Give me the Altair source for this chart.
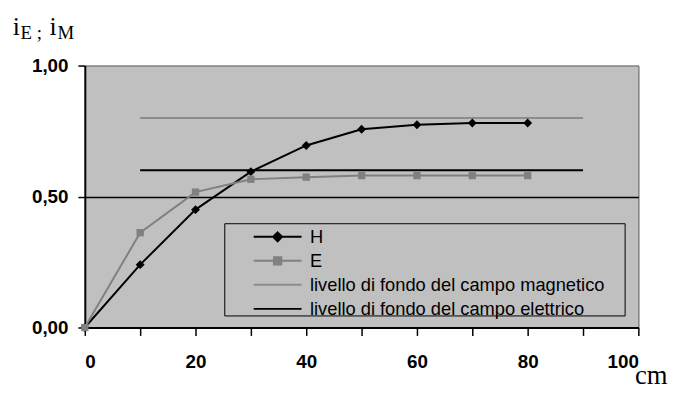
import altair as alt
import pandas as pd

# ---- data ----
distance_cm = [0, 10, 20, 30, 40, 50, 60, 70, 80]
h_values = [0.0, 0.24, 0.45, 0.595, 0.695, 0.757, 0.774, 0.781, 0.781]
e_values = [0.0, 0.362, 0.517, 0.566, 0.574, 0.58, 0.58, 0.58, 0.58]

level_names = ["livello di fondo del campo magnetico", "livello di fondo del campo elettrico"]
level_values = [0.80, 0.60]
level_start = [10, 10]
level_end = [90, 90]

series_names = ["H", "E"] + level_names
series_colors = ["#000000", "#808080", "#8c8c8c", "#000000"]

x_ticks = list(range(0, 101, 10))
y_ticks = [0, 0.5, 1]

# ---- tables ----
df = pd.DataFrame({"cm": distance_cm, "H": h_values, "E": e_values})
lv = pd.DataFrame({"serie": level_names, "valore": level_values, "da": level_start, "a": level_end})
legend_df = pd.DataFrame({"serie": series_names})
one = pd.DataFrame({"k": [0]})

SANS = "Liberation Sans"
SERIF = "Liberation Serif"

x_scale = alt.Scale(domain=[0, 100], nice=False)
y_scale = alt.Scale(domain=[0, 1], nice=False)

x_axis = alt.Axis(
    values=x_ticks,
    labelExpr="datum.value % 20 == 0 ? datum.label : ''",
    labelFont=SANS, labelFontWeight="bold", labelFontSize=19, labelColor="black",
    labelPadding=17, tickSize=8, tickColor="black", tickWidth=1.5,
    domainColor="black", domainWidth=2,
    grid=True, gridColor="#808080", gridWidth=1.5,
    gridOpacity={"condition": {"test": "datum.value == 100", "value": 1}, "value": 0},
    title="cm", titleFont=SERIF, titleFontSize=27, titleFontWeight="normal",
    titleColor="black", titleAlign="right", titleBaseline="alphabetic",
    titleX=589, titleY=57, titleAnchor="start",
)
y_axis = alt.Axis(
    values=y_ticks,
    labelExpr="replace(format(datum.value, '.2f'), '.', ',')",
    labelFont=SANS, labelFontWeight="bold", labelFontSize=19, labelColor="black",
    labelPadding=10, tickSize=7, tickColor="black", tickWidth=1.5,
    domainColor="black", domainWidth=2,
    grid=True, gridWidth=1.5,
    gridColor={"condition": {"test": "datum.value == 1", "value": "#808080"}, "value": "#000000"},
    title=None,
)

X = lambda f: alt.X(f"{f}:Q", scale=x_scale, axis=x_axis)
Y = lambda f: alt.Y(f"{f}:Q", scale=y_scale, axis=y_axis)

legend_paths = [
    "M-4.84,0L4.84,0M0,-0.9L0.9,0L0,0.9L-0.9,0Z",
    "M-4.84,0L4.84,0M-0.74,-0.74L0.74,-0.74L0.74,0.74L-0.74,0.74Z",
    "M-4.84,0L4.84,0",
    "M-4.84,0L4.84,0",
]
leg = alt.Legend(
    title=None, orient="none", legendX=185.8, legendY=164, padding=0,
    labelFont=SANS, labelFontSize=18.5, labelColor="black", labelOffset=23.5, labelLimit=500,
    symbolSize=100, symbolStrokeWidth=2, symbolOpacity=1, rowPadding=5.3, zindex=5,
)
leg_scale_col = alt.Scale(domain=series_names, range=series_colors)

h_line = alt.Chart(df).mark_line(color="black", strokeWidth=2).encode(x=X("cm"), y=Y("H"))
h_pts = alt.Chart(df).mark_point(shape="diamond", filled=True, size=81, color="black", opacity=1).encode(x=X("cm"), y=Y("H"))
e_line = alt.Chart(df).mark_line(color="#808080", strokeWidth=2).encode(x=X("cm"), y=Y("E"))
e_pts = alt.Chart(df).mark_point(shape="square", filled=True, size=55, color="#808080", opacity=1).encode(x=X("cm"), y=Y("E"))

levels = alt.Chart(lv).mark_rule(strokeWidth=2).encode(
    x=X("da"), x2="a", y=Y("valore"),
    stroke=alt.Stroke("serie:N", scale=leg_scale_col, legend=leg),
)

# legend frame (decoration)
frame = alt.Chart(one).mark_rect(fill="transparent", stroke="#000000", strokeWidth=1).encode(
    x=alt.value(141.6), x2=alt.value(546.6), y=alt.value(160), y2=alt.value(253.3)
)

# legend-only layer: its points sit far outside the drawing
legend_layer = alt.Chart(legend_df).mark_point(filled=True, opacity=1, strokeWidth=2).encode(
    x=alt.value(-2000), y=alt.value(-2000),
    fill=alt.Fill("serie:N", scale=leg_scale_col, legend=leg),
    stroke=alt.Stroke("serie:N", scale=leg_scale_col, legend=leg),
    shape=alt.Shape("serie:N", scale=alt.Scale(domain=series_names, range=legend_paths), legend=leg),
)

def txt(s, x, y, size):
    return alt.Chart(one).mark_text(
        text=s, font=SERIF, fontSize=size, align="left", baseline="alphabetic", color="black"
    ).encode(x=alt.value(x), y=alt.value(y))

title_parts = [
    txt("i", -73, -31, 26),
    txt("E ;", -65, -26.7, 19),
    txt("i", -35.7, -31, 26),
    txt("M", -27.7, -26.7, 19),
]

chart = alt.layer(
    frame, levels, h_line, h_pts, e_line, e_pts, legend_layer, *title_parts
).properties(
    width=560, height=265,
    autosize=alt.AutoSizeParams(type="none"),
    padding={"left": 77.7, "top": 56, "right": 32, "bottom": 63},
    background="white",
).configure_view(
    fill="#c0c0c0", strokeOpacity=0
)

chart.save("out.html", embed_options={"renderer": "svg", "actions": False})
